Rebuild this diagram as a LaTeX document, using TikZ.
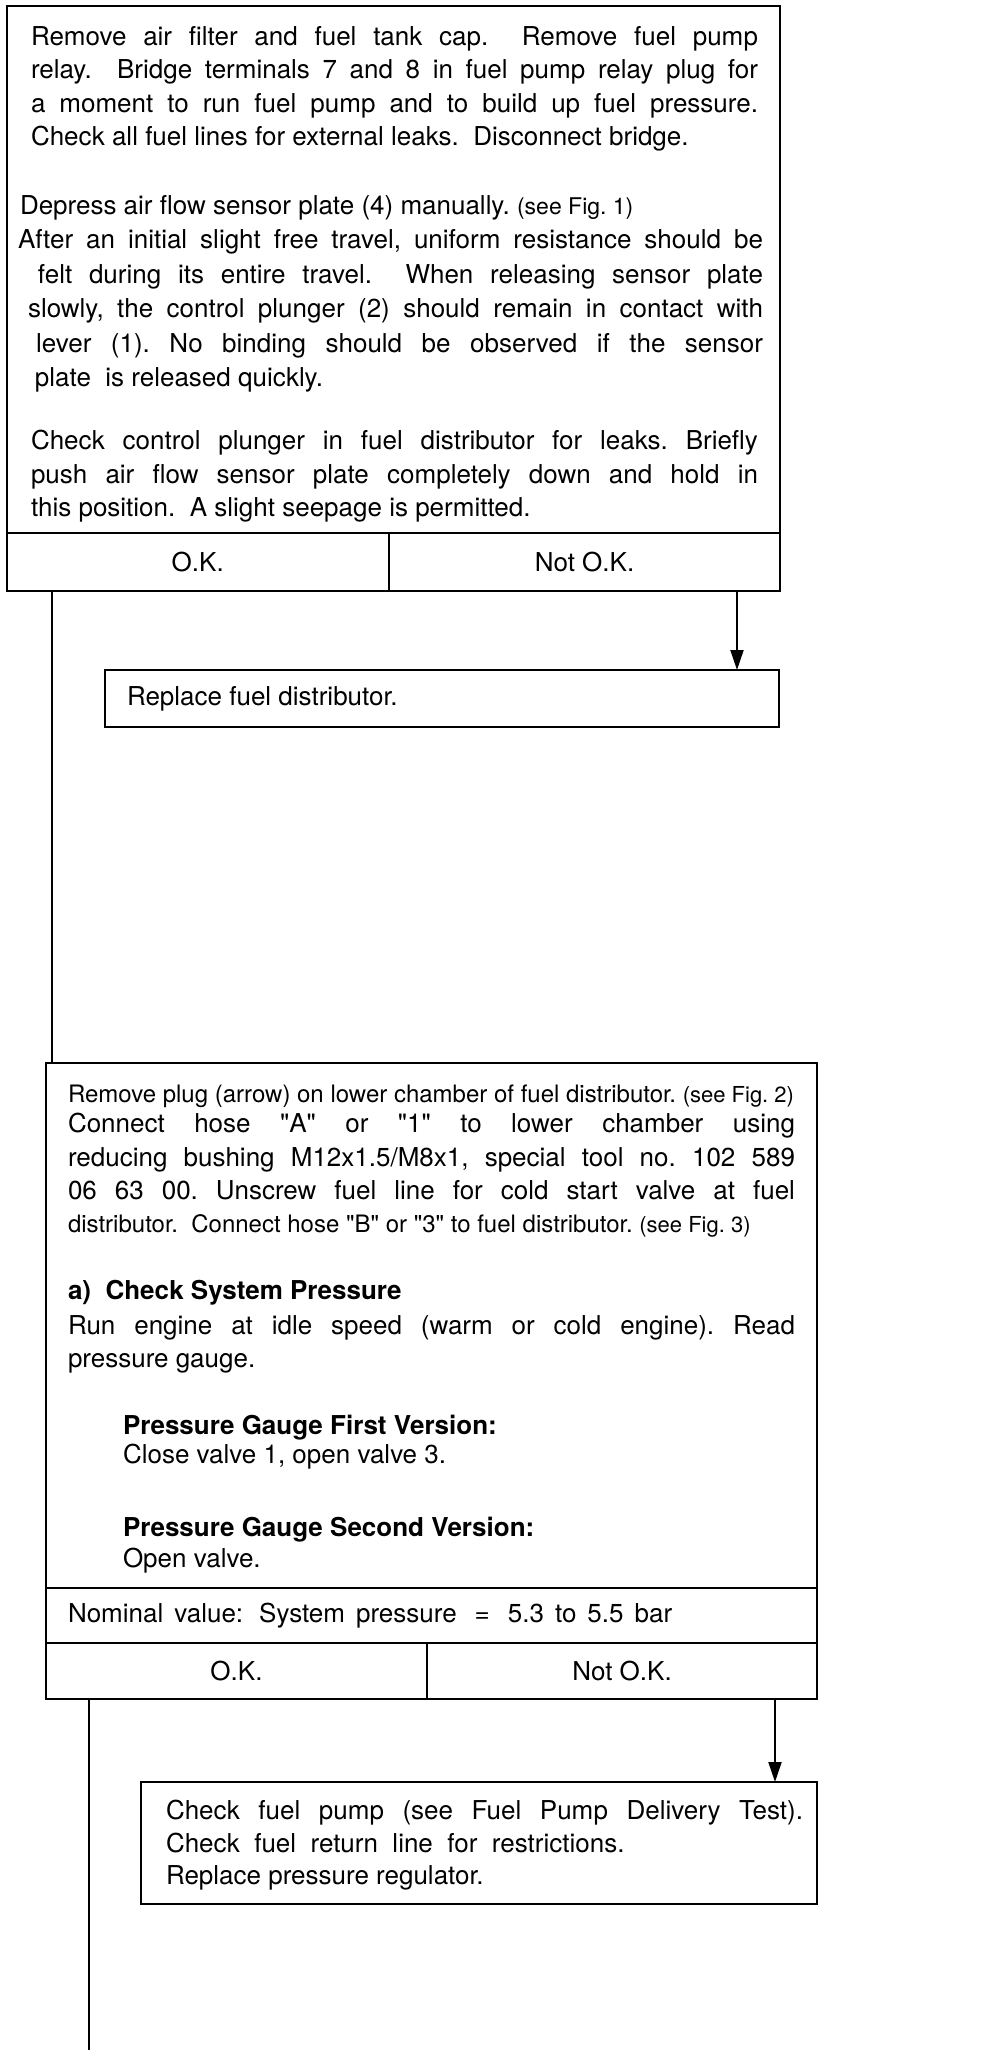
\documentclass[tikz,border=0pt]{standalone}
\usepackage{fontspec}
\setmainfont{TeX Gyre Heros}
\usetikzlibrary{arrows.meta}
\newcommand\sq{\XeTeXglyph\XeTeXglyphindex "quotedbl" }
\frenchspacing
\begin{document}
\begin{tikzpicture}[x=1pt,y=-1pt,
  box/.style={draw, line width=2pt, inner sep=0pt, outer sep=0pt, anchor=north west, font=\fontsize{26}{33}\selectfont},
  para/.style={inner sep=0pt, outer sep=0pt, anchor=north west, align=justify},
  line/.style={inner sep=0pt, outer sep=0pt, anchor=base west, font=\fontsize{26}{33}\selectfont},
  conn/.style={line width=2pt},
  arr/.style={line width=2pt, -{Triangle[length=20pt,width=13pt]}}]
\useasboundingbox (0,0) rectangle (992,2050);

% ---------- first test box ----------
\node[box, minimum width=773.5pt, minimum height=526.5pt] (b1) at (6.5,6.5) {};
\node[box, minimum width=382.5pt, minimum height=58pt] (b1ok) at (6.5,533) {O.K.};
\node[box, minimum width=391pt, minimum height=58pt] (b1nok) at (389,533) {Not O.K.};

\node[para, text width=727pt, font=\fontsize{26}{33.3}\selectfont] (p1) at (31,26.5)
 {Remove air filter and fuel tank cap.\ \ Remove fuel pump\linebreak
  relay.\ \ Bridge terminals 7 and 8 in fuel pump relay plug for\linebreak
  a moment to run fuel pump and to build up fuel pressure.\linebreak
  Check all fuel lines for external leaks.\ \ Disconnect bridge.};

\node[para, text width=745pt, font=\fontsize{26}{34.4}\selectfont] (p2) at (18,195.5)
 {\hspace*{2pt}Depress air flow sensor plate (4) manually. {\fontsize{23}{30}\selectfont(see Fig. 1)}\newline
  After an initial slight free travel, uniform resistance should be\linebreak
  \hspace*{20pt}felt during its entire travel.\ \ When releasing sensor plate\linebreak
  \hspace*{10pt}slowly, the control plunger (2) should remain in contact with\linebreak
  \hspace*{18pt}lever (1). No binding should be observed if the sensor\linebreak
  \hspace*{17pt}plate\ \ is released quickly.};

\node[para, text width=727pt, font=\fontsize{26}{33.5}\selectfont] (p3) at (31,430.5)
 {Check control plunger in fuel distributor for leaks. Briefly\linebreak
  push air flow sensor plate completely down and hold in\linebreak
  this position.\ \ A slight seepage is permitted.};

% ---------- replace fuel distributor ----------
\node[box, minimum width=674pt, minimum height=57pt] (r1) at (105,670) {};
\node[line, anchor=west] (r1t) at (127,698.5) {Replace fuel distributor.};

% ---------- second test box ----------
\node[box, minimum width=771pt, minimum height=525pt] (b2) at (46,1063) {};
\node[box, minimum width=771pt, minimum height=55pt] (b2nom) at (46,1588) {};
\node[box, minimum width=381pt, minimum height=56pt] (b2ok) at (46,1643) {O.K.};
\node[box, minimum width=390pt, minimum height=56pt] (b2nok) at (427,1643) {Not O.K.};

\node[line, font=\fontsize{24}{30}\selectfont] (q1) at (68,1102)
 {Remove plug (arrow) on lower chamber of fuel distributor. {\fontsize{22}{28}\selectfont(see Fig. 2)}};
\node[para, text width=727pt, font=\fontsize{26}{33.5}\selectfont] (q2) at (68,1113.5)
 {Connect hose \sq A\sq\ or \sq 1\sq\ to lower chamber using\linebreak
  reducing bushing M12x1.5/M8x1, special tool no. 102 589\linebreak
  06 63 00. Unscrew fuel line for cold start valve at fuel\parfillskip=0pt\par};
\node[line, font=\fontsize{24}{30}\selectfont] (q3) at (68,1232)
 {distributor.\ \ Connect hose \sq B\sq\ or \sq 3\sq\ to fuel distributor. {\fontsize{22}{28}\selectfont(see Fig. 3)}};

\node[line, font=\fontsize{26}{33}\bfseries] (q4) at (68,1299) {a)\ \ Check System Pressure};
\node[para, text width=727pt, font=\fontsize{26}{33.5}\selectfont] (q5) at (68,1315.5)
 {Run engine at idle speed (warm or cold engine). Read\linebreak
  pressure gauge.};
\node[line, font=\fontsize{26}{33}\bfseries] (q6) at (123,1434) {Pressure Gauge First Version:};
\node[line] (q7) at (123,1463) {Close valve 1, open valve 3.};
\node[line, font=\fontsize{26}{33}\bfseries] (q8) at (123,1536) {Pressure Gauge Second Version:};
\node[line] (q9) at (123,1567) {Open valve.};
\node[line, anchor=west] (nom) at (68,1615.5) {\spaceskip=11pt Nominal value:\hspace{16pt}System pressure\hspace{18pt}=\hspace{18pt}5.3 to 5.5 bar};

% ---------- fuel pump box ----------
\node[box, minimum width=676pt, minimum height=122pt] (r2) at (141,1782) {};
\node[para, text width=637pt, font=\fontsize{26}{32.5}\selectfont] (r2t) at (166,1800.5)
 {Check fuel pump (see Fuel Pump Delivery Test).\linebreak
  Check\ \ fuel\ \ return\ \ line\ \ for\ \ restrictions.\newline
  Replace pressure regulator.};

% ---------- connectors ----------
\coordinate (xL1) at (52,0);
\coordinate (xA1) at (737,0);
\coordinate (xA2) at (775,0);
\coordinate (xL2) at (89,2050);
\draw[conn] (b1ok.south -| xL1) -- (b2.north -| xL1);
\draw[arr] (b1nok.south -| xA1) -- (r1.north -| xA1);
\draw[conn] (b2ok.south -| xL2) -- (xL2);
\draw[arr] (b2nok.south -| xA2) -- (r2.north -| xA2);
\end{tikzpicture}
\end{document}
